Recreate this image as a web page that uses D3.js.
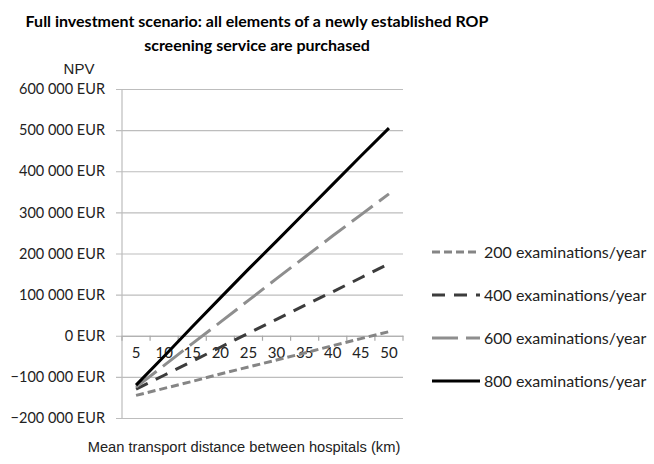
<!DOCTYPE html>
<html>
<head>
<meta charset="utf-8">
<script src="https://cdn.jsdelivr.net/npm/d3@7"></script>
<style>
  body { margin: 0; background: #fff; }
  svg { display: block; }
</style>
</head>
<body>
<svg id="chart" width="654" height="464"></svg>
<script>
// Mean transport distance categories (km)
const distances = [5, 10, 15, 20, 25, 30, 35, 40, 45, 50];

// NPV in EUR for each annual examination volume
const npv200 = [-145000, -128000, -111000, -93000, -76000, -59000, -42000, -24000, -7000, 10000];
const npv400 = [-130000, -96000, -62000, -28000, 6000, 40000, 74000, 107000, 141000, 175000];
const npv600 = [-125000, -72000, -19000, 33000, 86000, 139000, 191000, 243000, 294000, 345000];
const npv800 = [-120000, -50000, 22000, 92000, 162000, 230000, 299000, 368000, 437000, 505000];

const seriesNames = ["200 examinations/year", "400 examinations/year", "600 examinations/year", "800 examinations/year"];
const yTicks = [-200000, -100000, 0, 100000, 200000, 300000, 400000, 500000, 600000];

const series = [
  { name: seriesNames[0], values: npv200, color: "#858585", dash: "8,4", width: 3 },
  { name: seriesNames[1], values: npv400, color: "#3c3c3c", dash: "13,9", width: 3 },
  { name: seriesNames[2], values: npv600, color: "#8e8e8e", dash: "26,8", width: 3 },
  { name: seriesNames[3], values: npv800, color: "#000000", dash: null, width: 3 }
];

const svg = d3.select("#chart");
const calibri = "Lato, 'Open Sans', sans-serif";
const arial = "'Liberation Sans', Arial, sans-serif";

const plot = { left: 122, right: 403, top: 89, bottom: 418 };

const x = d3.scaleBand().domain(distances).range([plot.left, plot.right]);
const y = d3.scaleLinear().domain([-200000, 600000]).range([plot.bottom, plot.top]);

const fmt = v => d3.format(",")(v).replace(/,/g, " ") + " EUR";

// Title
svg.append("text")
  .attr("x", 257).attr("y", 27)
  .attr("text-anchor", "middle")
  .style("font-family", calibri).style("font-weight", "bold").style("font-size", "16px")
  .text("Full investment scenario: all elements of a newly established ROP");
svg.append("text")
  .attr("x", 257).attr("y", 51)
  .attr("text-anchor", "middle")
  .style("font-family", calibri).style("font-weight", "bold").style("font-size", "16px")
  .text("screening service are purchased");

// Y axis title
svg.append("text")
  .attr("x", 79).attr("y", 74)
  .attr("text-anchor", "middle")
  .style("font-family", arial).style("font-size", "15px").attr("fill", "#222")
  .text("NPV");

// Horizontal gridlines and y axis
const yAxis = d3.axisLeft(y).tickValues(yTicks).tickSize(-(plot.right - plot.left) - 6).tickFormat(fmt);
const gy = svg.append("g").attr("transform", `translate(${plot.left - 6},0)`).call(yAxis);
gy.select(".domain").remove();
gy.selectAll(".tick line").attr("stroke", "#bdbdbd").attr("stroke-width", 1.2);
gy.selectAll(".tick text")
  .attr("x", -11).attr("fill", "#222")
  .style("font-family", calibri).style("font-size", "14.5px");

svg.append("line")
  .attr("x1", plot.left).attr("x2", plot.left)
  .attr("y1", plot.top).attr("y2", plot.bottom)
  .attr("stroke", "#bdbdbd").attr("stroke-width", 1.2);

// Category axis at NPV = 0
const xAxis = d3.axisBottom(x).tickSize(0).tickPadding(12);
const gx = svg.append("g").attr("transform", `translate(0,${y(0)})`).call(xAxis);
gx.select(".domain").attr("stroke", "#a8a8a8").attr("stroke-width", 1.2);
gx.selectAll(".tick text")
  .attr("fill", "#222")
  .style("font-family", calibri).style("font-size", "15px");
const boundaries = distances.map(d => x(d)).concat([plot.right]);
gx.selectAll(".bound").data(boundaries).enter().append("line")
  .attr("x1", d => d).attr("x2", d => d)
  .attr("y1", 0).attr("y2", 5)
  .attr("stroke", "#a8a8a8").attr("stroke-width", 1.2);

// Series lines
const line = d3.line()
  .x((v, i) => x(distances[i]) + x.bandwidth() / 2)
  .y(v => y(v));

svg.append("g").selectAll("path").data(series).enter().append("path")
  .attr("d", s => line(s.values))
  .attr("fill", "none")
  .attr("stroke", s => s.color)
  .attr("stroke-width", s => s.width)
  .attr("stroke-dasharray", s => s.dash);

// Legend
const legendRows = [252, 295, 338, 381];
const lg = svg.append("g").selectAll("g").data(series).enter().append("g")
  .attr("transform", (s, i) => `translate(432,${legendRows[i]})`);
lg.append("line")
  .attr("x1", 0).attr("x2", 48).attr("y1", 0).attr("y2", 0)
  .attr("stroke", s => s.color)
  .attr("stroke-width", s => s.width)
  .attr("stroke-dasharray", s => s.dash);
lg.append("text")
  .attr("x", 52).attr("y", 5.5)
  .attr("fill", "#222")
  .style("font-family", calibri).style("font-size", "16px")
  .text(s => s.name);

// X axis title
svg.append("text")
  .attr("x", 244).attr("y", 452)
  .attr("text-anchor", "middle")
  .style("font-family", arial).style("font-size", "14.7px").attr("fill", "#222")
  .text("Mean transport distance between hospitals (km)");
</script>
</body>
</html>
